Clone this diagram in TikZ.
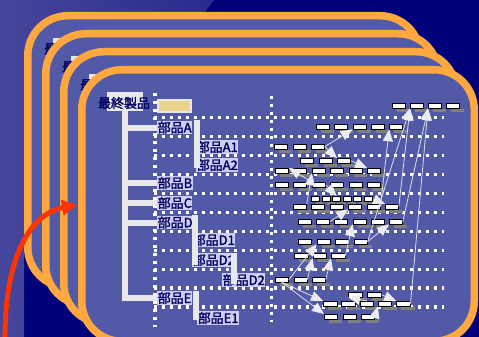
\documentclass[tikz,border=0pt]{standalone}
\usepackage{fontspec}
\newfontfamily\jpfont[FakeBold=1.8]{Noto Sans CJK JP}
\usetikzlibrary{arrows.meta,calc}
\definecolor{navybg}{RGB}{0,0,122}
\definecolor{leftbg}{RGB}{70,70,156}
\definecolor{cardfill}{RGB}{82,90,168}
\definecolor{cardedge}{RGB}{255,168,64}
\definecolor{labelbg}{RGB}{206,206,242}
\definecolor{labelink}{RGB}{0,0,96}
\definecolor{treewhite}{RGB}{232,232,236}
\definecolor{goalbeige}{RGB}{236,210,140}
\definecolor{shadowgray}{RGB}{128,128,128}
\definecolor{depgray}{RGB}{222,222,232}
\definecolor{headgray}{RGB}{236,236,240}
\definecolor{redarrow}{RGB}{255,52,0}

\begin{document}
\begin{tikzpicture}[x=1pt, y=-1pt,
    card/.style={draw=cardedge, fill=cardfill, line width=7.5pt,
      rounded corners=40pt},
    lbl/.style={font=\jpfont\fontsize{13}{13}\selectfont, text=labelink,
      fill=labelbg, inner xsep=0.5pt, inner ysep=1pt, anchor=west},
    toplbl/.style={font=\jpfont\fontsize{13}{13}\selectfont, text=labelink,
      inner sep=0pt},
    topbox/.style={fill=treewhite, minimum width=36pt, minimum height=19pt,
      inner sep=0pt},
    goalbox/.style={draw=treewhite, fill=goalbeige, line width=1.5pt,
      minimum width=33pt, minimum height=12pt, inner sep=0pt},
    tree/.style={draw=treewhite, line width=6pt},
    dots/.style={draw=white, line width=3.2pt,
      dash pattern=on 3.2pt off 4.8pt},
    bar/.style={draw=black, fill=white, line width=0.8pt,
      minimum height=4.5pt, inner sep=0pt, anchor=north west},
    sbar/.style={fill=shadowgray, minimum height=3.5pt, inner sep=0pt,
      anchor=north west},
    dep/.style={draw=depgray, line width=0.8pt,
      -{Triangle[length=12pt,width=10pt,fill=headgray,color=headgray]}},
    redarr/.style={draw=redarrow, line width=5pt,
      -{Triangle[length=15pt,width=15pt]}},
  ]
  \useasboundingbox (0,0) rectangle (479,337);
  \clip (0,0) rectangle (479,337);

  % background
  \fill[navybg] (0,0) rectangle (479,337);
  \shade[left color=leftbg, right color=leftbg!60!navybg]
    (0,0) -- (214,0) -- (24,250) -- (24,337) -- (0,337) -- cycle;

  % --- stacked cards, only the corner label of the back ones shows ---
  \foreach \k in {0,1,2} {
    \path[card] ({27.75+18*\k},{15.75+18*\k})
      rectangle ({420.25+18*\k},{287.25+18*\k});
    \node[topbox] (topbg\k) at ({125-18*(3-\k)},{101.5-18*(3-\k)}) {};
    \node[toplbl] (top\k) at ({124-18*(3-\k)},{103-18*(3-\k)}) {最終製品};
  }
  \path[card] (81.75,69.75) rectangle (474.25,341.25);

  % --- time grid ---
  \draw[dots] (155,93) -- (155,327);
  \draw[dots] (271.5,96) -- (271.5,322);
  \foreach \i in {0,...,10}
    \draw[dots] (154,{117.5+18.95*\i}) -- (444,{117.5+18.95*\i});

  % --- BOM tree ---
  \node[topbox] (topbg) at (125,101.5) {};
  \node[toplbl] (top) at (124,103) {最終製品};
  \node[goalbox] (goal) at (174.5,106) {};

  \node[lbl] (pA) at (157,127.5) {部品A};
  \node[lbl] (pA1) at (196,147) {部品A1};
  \node[lbl] (pA2) at (196,165) {部品A2};
  \node[lbl] (pB) at (157,183) {部品B};
  \node[lbl] (pC) at (157,203) {部品C};
  \node[lbl] (pD) at (157,222.5) {部品D};
  \node[lbl] (pD1) at (192,240) {部品D1};
  \node[lbl] (pD2) at (192,260) {部品D2};
  \node[lbl] (pD21) at (222,280) {部品D2};
  \node[lbl] (pE) at (157,298) {部品E};
  \node[lbl] (pE1) at (197,318) {部品E1};

  \foreach \n in {pA,pB,pC,pD,pE}
    \draw[tree] (topbg.south) |- (\n.west);
  \draw[tree] ($(pA.north east)+(4.5,0)$) -- ($(pA.east |- pA2.center)+(4.5,3)$);
  \draw[tree] ($(pD.north east)+(2,0)$) -- ($(pD.east |- pD2.center)+(2,5)$);
  \draw[tree] ($(pD2.north east)+(-2,0)$) -- ($(pD2.east |- pD21.center)+(-2,4)$);
  \draw[tree] ($(pE.north east)+(4,0)$) -- ($(pE.east |- pE1.center)+(4,2)$);

  % --- order bars: row/top/first x/count/pitch/width ---
  \foreach \r/\y/\x/\n/\p/\w in {0/103/392/4/18/13, 1/124/316/5/18.3/13,
      2/144/274/3/18.5/13, 3/158/300/3/18.5/13, 4/168/275/6/18.4/13,
      5/182/275/6/18.4/13, 6/196/311/6/10.6/8, 7/204/293/6/18.4/13,
      8/219/298/6/18.2/13, 9/239/298/4/18.6/13, 10/253/294/3/18.5/13.5,
      11/277/275/3/18.5/13, 12/292/348/2/19/13.5, 13/301/323/5/18.3/13.5,
      14/314/324/3/18.5/13}
    \foreach \i in {1,...,\n}
      \node[sbar, minimum width=\w pt] (s\r-\i)
        at ({\x+(\i-1)*\p+5},{\y+5.5}) {};
  \foreach \r/\y/\x/\n/\p/\w in {0/103/392/4/18/13, 1/124/316/5/18.3/13,
      2/144/274/3/18.5/13, 3/158/300/3/18.5/13, 4/168/275/6/18.4/13,
      5/182/275/6/18.4/13, 6/196/311/6/10.6/8, 7/204/293/6/18.4/13,
      8/219/298/6/18.2/13, 9/239/298/4/18.6/13, 10/253/294/3/18.5/13.5,
      11/277/275/3/18.5/13, 12/292/348/2/19/13.5, 13/301/323/5/18.3/13.5,
      14/314/324/3/18.5/13}
    \foreach \i in {1,...,\n}
      \node[bar, minimum width=\w pt] (r\r-\i) at ({\x+(\i-1)*\p},\y) {};

  % --- dependencies ---
  \draw[dep] (r2-3.east) -- (r1-3.south west);
  \draw[dep] (r2-3.east) -- (r3-3.north west);
  \draw[dep] (r3-3.east) -- (r4-6.north west);
  \draw[dep] (r5-3.north west) -- (r4-1.north east);
  \draw[dep] (r7-1.north east) -- (r4-3.south west);
  \draw[dep] (r5-3.east) -- (r6-3.north);
  \draw[dep] (r6-6.east) -- (r7-6.north west);
  \draw[dep] (r8-2.east) -- (r7-4.south west);
  \draw[dep] (r10-3.east) -- (r8-4.south west);
  \draw[dep] (r9-4.east) -- (r8-6.south west);
  \draw[dep] (r11-1.east) -- (r9-2.south west);
  \draw[dep] (r11-3.east) -- (r10-3.south west);
  \draw[dep] (r11-2.east) -- (r10-2.south west);
  \draw[dep] (r11-1.south) -- (r13-1.north west);
  \draw[dep] (r11-1.south) -- (r14-1.north west);
  \draw[dep] (r12-2.east) -- (r13-5.north west);
  \draw[dep] (r14-3.east) -- (r13-4.south west);
  \draw[dep] (r13-3.north) -- (r12-1.south west);
  \draw[dep] (r7-5.east) -- (r1-5.south west);
  \draw[dep] (r7-6.east) -- (r0-2.south west);
  \draw[dep] (r9-4.east) -- (r0-2.south west);
  \draw[dep] (r8-6.east) -- (r0-3.south west);
  \draw[dep] (r13-5.east) -- (r0-3.south west);

  % --- red arrow ---
  \coordinate (rs) at (5,342);
  \coordinate (re) at (77,205);
  \draw[redarr] (rs) .. controls (4,262) and (28,214) .. (re);
\end{tikzpicture}
\end{document}
